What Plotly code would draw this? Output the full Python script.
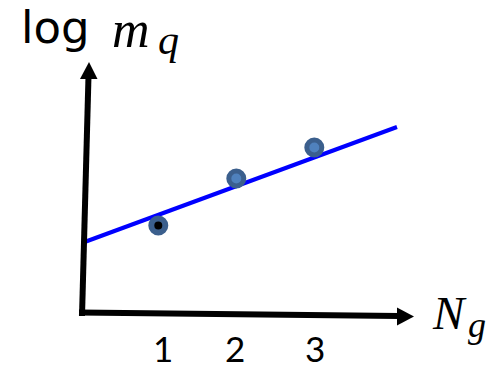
import plotly.graph_objects as go

# Data (schematic): number of generations vs log quark mass
N_g = [1, 2, 3]
log_mq = [1.79, 2.73, 3.35]
inner_colors = ["#000000", "#4f81bd", "#4f81bd"]
fit_x = [0.02, 4.06]
fit_y = [1.44, 3.76]
tick_vals = [1, 2, 3]
tick_text = ["1", "2", "3"]

W, H = 501, 369
# pixel mapping helpers used only for decoration placement
def dx(px):
    return (px - 80.3) / 78.0
def dy(py):
    return (315.0 - py) / 50.0

fig = go.Figure()

# fit line
fig.add_trace(go.Scatter(x=fit_x, y=fit_y, mode="lines",
                         line=dict(color="#0000ff", width=4), hoverinfo="skip"))
# points
fig.add_trace(go.Scatter(x=N_g, y=log_mq, mode="markers",
                         marker=dict(size=[14, 15, 15], color=inner_colors, opacity=1,
                                     line=dict(color="#3b5f8d", width=[6, 5, 5])),
                         hoverinfo="skip"))

shapes = []
# y axis line
shapes.append(dict(type="line", xref="x", yref="y", x0=dx(82), y0=dy(316), x1=dx(88.5), y1=dy(76),
                   line=dict(color="black", width=6)))
# x axis line
shapes.append(dict(type="line", xref="x", yref="y", x0=dx(79), y0=dy(312.5), x1=dx(399), y1=dy(316),
                   line=dict(color="black", width=6)))
# arrowheads
def tri(p1, p2, p3):
    pts = [(dx(a), dy(b)) for a, b in (p1, p2, p3)]
    return "M {} {} L {} {} L {} {} Z".format(pts[0][0], pts[0][1], pts[1][0], pts[1][1], pts[2][0], pts[2][1])
shapes.append(dict(type="path", xref="x", yref="y", path=tri((89, 62), (80, 79), (97.5, 79)),
                   fillcolor="black", line=dict(color="black", width=0)))
shapes.append(dict(type="path", xref="x", yref="y", path=tri((414, 316.5), (397, 307.5), (397, 325.5)),
                   fillcolor="black", line=dict(color="black", width=0)))

annotations = []
label_nudge = [5, -1, 1]  # small horizontal offsets of tick labels (pixels)
for v, t, s in zip(tick_vals, tick_text, label_nudge):
    annotations.append(dict(x=v, y=dy(348), xref="x", yref="y", text=t, showarrow=False,
                            xshift=s, borderpad=0,
                            font=dict(family="Lato", size=35, color="black"),
                            xanchor="center", yanchor="middle"))
# y axis label
annotations.append(dict(x=19 / W, y=1 - 28 / H, xref="paper", yref="paper", text="log",
                        showarrow=False, xanchor="left", yanchor="middle",
                        font=dict(family="DejaVu Sans", size=45, color="black")))
annotations.append(dict(x=111 / W, y=1.0, xref="paper", yref="paper", text="<i>m</i>",
                        showarrow=False, xanchor="left", yanchor="top", borderpad=0,
                        font=dict(family="Liberation Serif", size=52, color="black")))
annotations.append(dict(x=156 / W, y=1 - 40 / H, xref="paper", yref="paper", text="<i>q</i>",
                        showarrow=False, xanchor="left", yanchor="middle",
                        font=dict(family="Liberation Serif", size=42, color="black")))
# x axis label
annotations.append(dict(x=430 / W, y=1 - 313 / H, xref="paper", yref="paper", text="<i>N</i>",
                        showarrow=False, xanchor="left", yanchor="middle",
                        font=dict(family="Liberation Serif", size=47, color="black")))
annotations.append(dict(x=466 / W, y=1 - 325 / H, xref="paper", yref="paper", text="<i>g</i>",
                        showarrow=False, xanchor="left", yanchor="middle",
                        font=dict(family="Liberation Serif", size=36, color="black")))

fig.update_layout(
    width=W, height=H,
    margin=dict(l=0, r=0, t=0, b=0),
    paper_bgcolor="white", plot_bgcolor="white",
    showlegend=False,
    xaxis=dict(range=[dx(0), dx(W)], visible=False, fixedrange=True),
    yaxis=dict(range=[dy(H), dy(0)], visible=False, fixedrange=True),
    shapes=shapes,
    annotations=annotations,
)

fig.write_html("out.html", config={"displayModeBar": False},
               post_script="document.body.style.margin='0';document.body.style.overflow='hidden';")
